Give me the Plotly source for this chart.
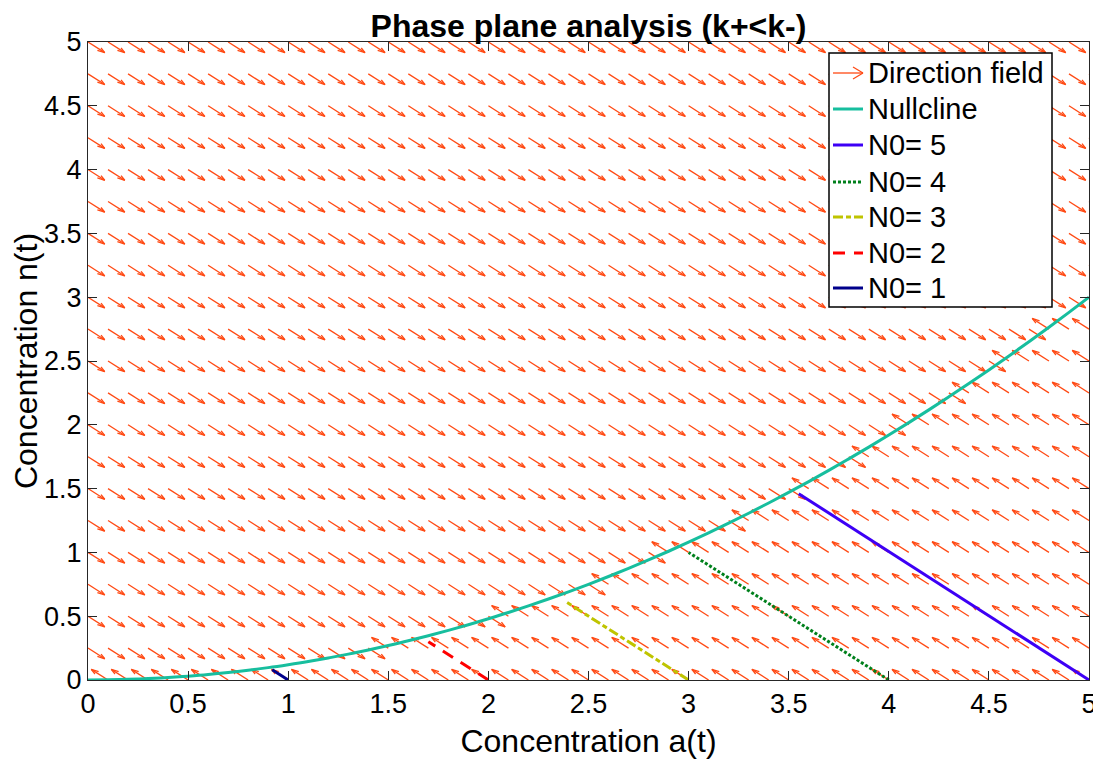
import numpy as np
import plotly.graph_objects as go

## Grid of the direction field (tails of the arrows)
grid_a = [0.0, 0.1, 0.2, 0.3, 0.4, 0.5, 0.6, 0.7, 0.8, 0.9,
          1.0, 1.1, 1.2, 1.3, 1.4, 1.5, 1.6, 1.7, 1.8, 1.9,
          2.0, 2.1, 2.2, 2.3, 2.4, 2.5, 2.6, 2.7, 2.8, 2.9,
          3.0, 3.1, 3.2, 3.3, 3.4, 3.5, 3.6, 3.7, 3.8, 3.9,
          4.0, 4.1, 4.2, 4.3, 4.4, 4.5, 4.6, 4.7, 4.8, 4.9, 5.0]
grid_n = [0.0, 0.25, 0.5, 0.75, 1.0, 1.25, 1.5, 1.75, 2.0, 2.25, 2.5,
          2.75, 3.0, 3.25, 3.5, 3.75, 4.0, 4.25, 4.5, 4.75, 5.0]
arrow_step = 0.0836   # arrow component length, same in a and n

## Nullcline at the grid columns
nullcline_n = [0.000, 0.001, 0.005, 0.011, 0.019, 0.030, 0.043, 0.059, 0.077, 0.097,
               0.120, 0.145, 0.173, 0.203, 0.235, 0.270, 0.307, 0.347, 0.389, 0.433,
               0.480, 0.529, 0.581, 0.635, 0.691, 0.750, 0.811, 0.875, 0.941, 1.009,
               1.080, 1.153, 1.229, 1.307, 1.387, 1.470, 1.555, 1.643, 1.733, 1.825,
               1.920, 2.017, 2.117, 2.219, 2.323, 2.430, 2.539, 2.651, 2.765, 2.881, 3.000]

## Trajectories: start on the a-axis, end near the nullcline
traj_names = ['N0= 5', 'N0= 4', 'N0= 3', 'N0= 2', 'N0= 1']
traj_a = [[5.0, 3.55], [4.0, 3.0], [3.0, 2.39], [2.0, 1.70], [1.0, 0.92]]
traj_n = [[0.0, 1.46], [0.0, 1.0], [0.0, 0.61], [0.0, 0.30], [0.0, 0.08]]
traj_colors = ['#3D00F5', '#00801C', '#BFC400', '#FF0000', '#00008B']
traj_dash = ['solid', '3px,2px', '10px,3px,5px,3px', '12px,9px', 'solid']

field_color = '#FF4A14'
null_color = '#17BE9E'
tick_vals = [0, 0.5, 1, 1.5, 2, 2.5, 3, 3.5, 4, 4.5, 5]
tick_text = ['0', '0.5', '1', '1.5', '2', '2.5', '3', '3.5', '4', '4.5', '5']

## Build the quiver segments (shaft + two head strokes, like MATLAB quiver)
alpha, beta = 0.33, 0.33
qx, qy = [], []
for i, a in enumerate(grid_a):
    for n in grid_n:
        if n < nullcline_n[i]:
            u, v = -arrow_step, arrow_step
        else:
            u, v = arrow_step, -arrow_step
        tx, ty = a + u, n + v
        qx += [a, tx, None]
        qy += [n, ty, None]
        qx += [tx - alpha * (u + beta * v), tx, tx - alpha * (u - beta * v), None]
        qy += [ty - alpha * (v - beta * u), ty, ty - alpha * (v + beta * u), None]

fig = go.Figure()

fig.add_trace(go.Scatter(x=qx, y=qy, mode='lines', name='Direction field',
                         line=dict(color=field_color, width=1.3), showlegend=False))

fig.add_trace(go.Scatter(x=grid_a, y=nullcline_n, mode='lines', name='Nullcline',
                         line=dict(color=null_color, width=3, shape='spline'),
                         showlegend=False))

for k in range(len(traj_names)):
    fig.add_trace(go.Scatter(x=traj_a[k], y=traj_n[k], mode='lines', name=traj_names[k],
                             line=dict(color=traj_colors[k], width=3, dash=traj_dash[k]),
                             showlegend=False))

## MATLAB style legend box, drawn in paper coordinates
## (pixel positions measured on the plot area 88..1089 x 42..680)
def lx(px):
    return (px - 88) / 1001.0

def ly(py):
    return (680 - py) / 638.0

fig.add_shape(type='rect', xref='paper', yref='paper',
              x0=lx(829), x1=lx(1052), y0=ly(307), y1=ly(53),
              line=dict(color='black', width=1.5), fillcolor='white')

legend_rows = [73, 109, 145, 182, 217, 253, 288]
legend_labels = ['Direction field', 'Nullcline'] + traj_names
legend_colors = [field_color, null_color] + traj_colors
legend_dash = ['solid', 'solid'] + traj_dash
legend_width = [1.3, 3] + [3] * 5

for r, row in enumerate(legend_rows):
    fig.add_shape(type='line', xref='paper', yref='paper',
                  x0=lx(833), x1=lx(863), y0=ly(row), y1=ly(row),
                  line=dict(color=legend_colors[r], width=legend_width[r], dash=legend_dash[r]))
    fig.add_annotation(xref='paper', yref='paper', x=lx(866), y=ly(row),
                       xanchor='left', yanchor='middle', showarrow=False,
                       text=legend_labels[r], font=dict(size=29, color='black'))

## arrow head of the "Direction field" legend symbol
for dy in (-6, 6):
    fig.add_shape(type='line', xref='paper', yref='paper',
                  x0=lx(853), x1=lx(863), y0=ly(legend_rows[0] + dy), y1=ly(legend_rows[0]),
                  line=dict(color=field_color, width=1.3))

font_family = 'Liberation Sans, Arial, sans-serif'

## the page body offsets the figure by 8px, so the figure is 8px smaller each way
fig.update_layout(
    width=1093, height=756,
    margin=dict(l=80, r=12, t=34, b=84),
    plot_bgcolor='white', paper_bgcolor='white',
    font=dict(family=font_family, size=27, color='black'),
    title=dict(text='Phase plane analysis (k+<k-)', x=0.5, xref='paper',
               y=1 - 18 / 756.0, yref='container', yanchor='middle',
               font=dict(size=32, weight='bold', color='black')),
    showlegend=False,
)

fig.update_xaxes(range=[0, 5], tickvals=tick_vals, ticktext=tick_text, automargin=False,
                 showgrid=False, zeroline=False, showline=True, linecolor='#262626',
                 linewidth=1, mirror='ticks', ticks='inside', ticklen=9, tickcolor='#262626',
                 title=dict(text='Concentration a(t)', font=dict(size=32), standoff=11))
fig.update_yaxes(range=[0, 5], tickvals=tick_vals, ticktext=tick_text, automargin=False,
                 showgrid=False, zeroline=False, showline=True, linecolor='#262626',
                 linewidth=1, mirror='ticks', ticks='inside', ticklen=9, tickcolor='#262626',
                 title=dict(text='Concentration n(t)', font=dict(size=32), standoff=3))

fig.write_html("out.html")
